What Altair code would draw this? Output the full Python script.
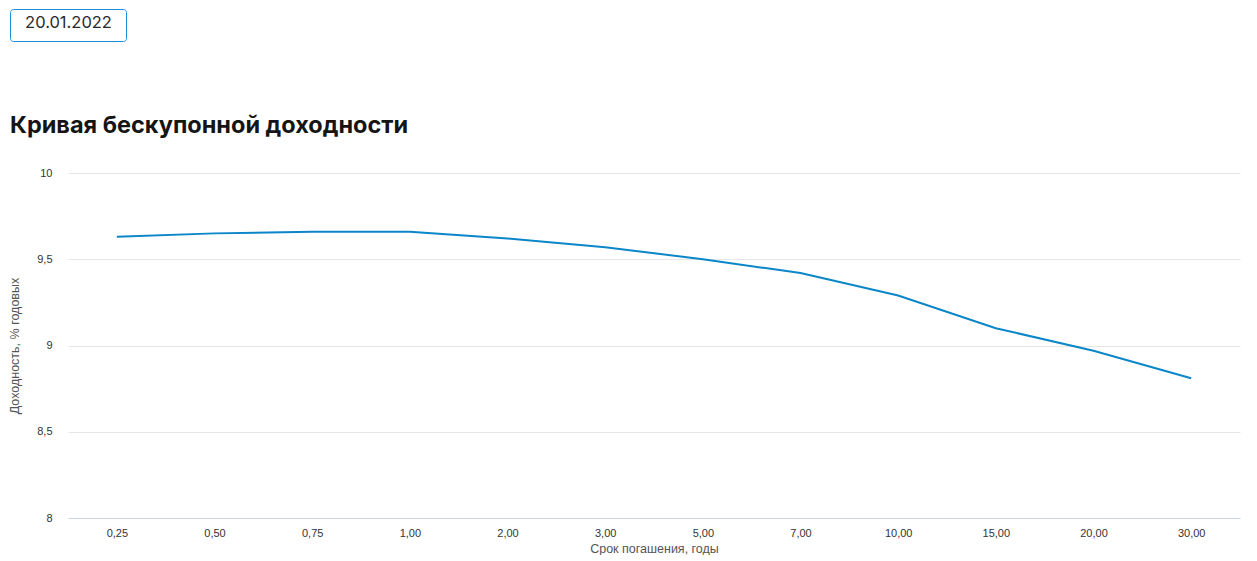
import altair as alt
import pandas as pd

terms = ["0,25", "0,50", "0,75", "1,00", "2,00", "3,00", "5,00", "7,00", "10,00", "15,00", "20,00", "30,00"]
yields = [9.63, 9.65, 9.66, 9.66, 9.62, 9.57, 9.50, 9.42, 9.29, 9.10, 8.97, 8.81]
y_ticks = [8, 8.5, 9, 9.5, 10]

date_label = "20.01.2022"
chart_title = "Кривая бескупонной доходности"
x_title = "Срок погашения, годы"
y_title = "Доходность, % годовых"

df = pd.DataFrame({"term": terms, "yield": yields})
one = pd.DataFrame({"k": [0]})

W, H = 1172, 345

line = alt.Chart(df).mark_line(color="#0a86c9", strokeWidth=2).encode(
    x=alt.X("term:N", sort=terms, title=x_title,
            scale=alt.Scale(padding=0.5),
            axis=alt.Axis(labelAngle=0, grid=False, ticks=False, domain=True,
                          domainColor="#ccd6eb", labelColor="#333333", labelFontSize=11,
                          labelFont="Liberation Sans", labelPadding=9,
                          titleFont="Liberation Sans", titleFontSize=12.5, titleFontWeight="normal",
                          titleColor="#555555", titlePadding=4)),
    y=alt.Y("yield:Q", title=y_title,
            scale=alt.Scale(domain=[8, 10], nice=False, zero=False),
            axis=alt.Axis(values=y_ticks, grid=True, gridColor="#e6e6e6", ticks=False, domain=False,
                          labelExpr="replace(format(datum.value, '~g'), '.', ',')",
                          labelColor="#333333", labelFontSize=11, labelFont="Liberation Sans",
                          labelPadding=16,
                          titleFont="Liberation Sans", titleFontSize=12.5, titleFontWeight="normal",
                          titleColor="#555555", titlePadding=15)),
)

box = alt.Chart(one).mark_rect(fill="white", stroke="#1a8fd6", strokeWidth=1, cornerRadius=3).encode(
    x=alt.value(-57.5), x2=alt.value(58.5), y=alt.value(-163.5), y2=alt.value(-131.5)
)
date_text = alt.Chart(one).mark_text(font="Inter", fontSize=16.5, color="#2a2a2a", align="center",
                                      baseline="middle").encode(
    x=alt.value(0.5), y=alt.value(-150), text=alt.value(date_label)
)
title_text = alt.Chart(one).mark_text(font="Inter", fontSize=23.5, fontWeight="bold", color="#151515",
                                       align="left", baseline="alphabetic").encode(
    x=alt.value(-58), y=alt.value(-40), text=alt.value(chart_title)
)

chart = alt.layer(line, box, date_text, title_text).properties(
    width=W, height=H,
    autosize=alt.AutoSizeParams(type="none"),
    padding={"left": 60, "top": 165, "right": 9, "bottom": 37},
).configure_view(stroke=None)

chart.save("out.html", embed_options={"renderer": "svg", "actions": False})
